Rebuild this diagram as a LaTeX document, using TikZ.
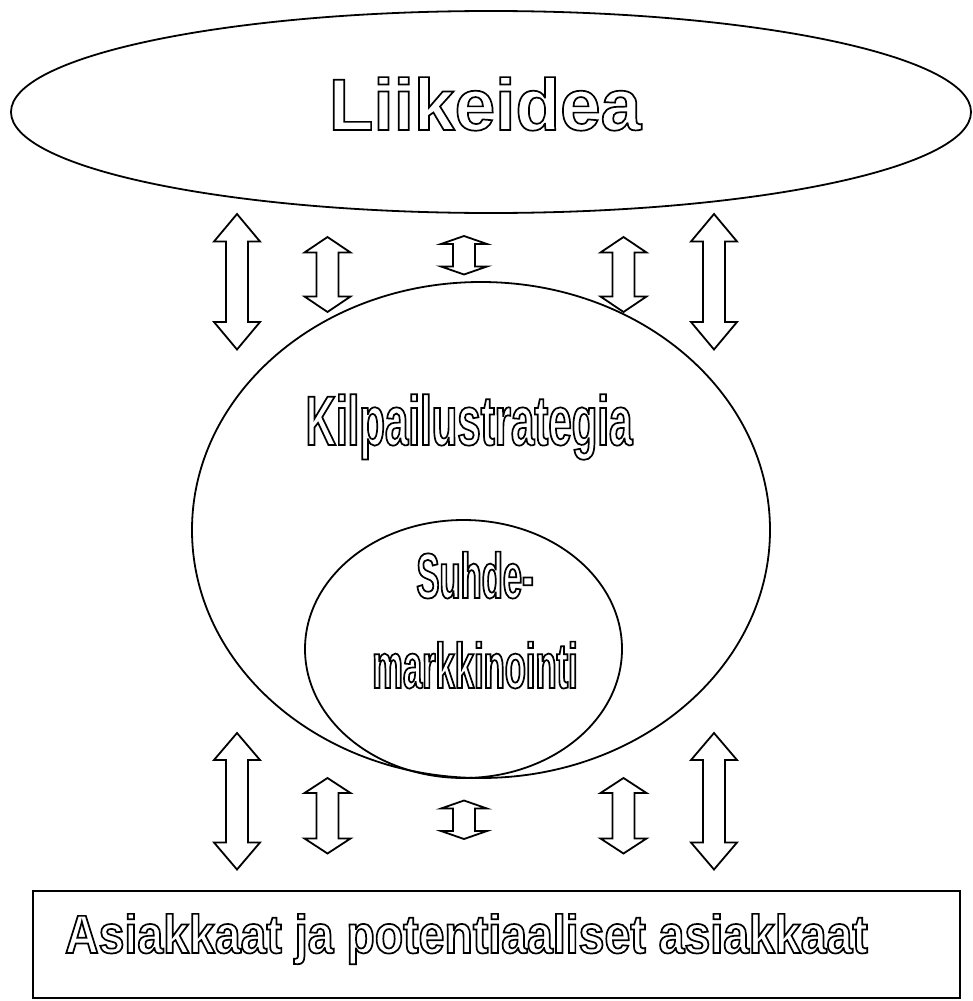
\documentclass[tikz,border=0pt]{standalone}
\usepackage{fontspec}
\usetikzlibrary{shapes.geometric}
\newfontfamily\fA{Liberation Sans}
\newfontfamily\fB{Liberation Sans}[FakeStretch=0.6]
\newfontfamily\fC{Liberation Sans}[FakeStretch=0.54]
\newfontfamily\fD{Liberation Sans}[FakeStretch=0.86]
\newcommand\hol[1]{\special{pdf:literal direct 1 Tr 1.7 w 0 j}#1\special{pdf:literal direct 0 Tr}}
\newcommand\darr[4]{%
  \draw[arrowbox] (#1,#2) -- (#1+23,#2+#4) -- (#1+11,#2+#4) -- (#1+11,#3-#4)
   -- (#1+23,#3-#4) -- (#1,#3) -- (#1-23,#3-#4) -- (#1-11,#3-#4)
   -- (#1-11,#2+#4) -- (#1-23,#2+#4) -- cycle;}
\tikzset{
  shapeline/.style={draw=black, line width=1.8pt},
  arrowbox/.style={draw=black, fill=white, line width=1.8pt, line join=miter},
  txt/.style={inner sep=0pt, outer sep=0pt, anchor=base}
}
\begin{document}
\begin{tikzpicture}[x=1pt,y=-1pt]
\fill[white] (0,0) rectangle (972,1001);
\useasboundingbox (0,0) rectangle (972,1001);
% shapes
\node[ellipse, shapeline, minimum width=960pt, minimum height=202pt, inner sep=0pt] (liike) at (491,112) {};
\node[ellipse, shapeline, minimum width=578pt, minimum height=496pt, inner sep=0pt] (kilpa) at (481,530) {};
\node[ellipse, shapeline, minimum width=317pt, minimum height=258pt, inner sep=0pt] (suhde) at (463.5,649) {};
\node[rectangle, shapeline, minimum width=927pt, minimum height=107pt, inner sep=0pt] (asiak) at (496.5,944.5) {};
% upper arrows
\darr{237}{214}{349.5}{27.5}
\darr{327.5}{237}{312}{15.5}
\darr{464}{236}{274.5}{8}
\darr{623.5}{237}{312}{15.5}
\darr{714}{214}{349.5}{27.5}
% lower arrows
\darr{237}{733}{869.5}{27}
\darr{327.5}{778}{853.5}{15}
\darr{464}{800.5}{839}{8}
\darr{623.5}{778}{853.5}{15}
\darr{714}{733}{869.5}{27}
% texts
\node[txt] (t1) at (485,130) {\fA\bfseries\fontsize{73}{80}\selectfont\hol{Liikeidea}};
\node[txt] (t2) at (469,445) {\fB\bfseries\fontsize{70}{80}\selectfont\hol{Kilpailustrategia}};
\node[txt] (t3) at (475,598) {\fC\bfseries\fontsize{64}{70}\selectfont\hol{Suhde-}};
\node[txt] (t4) at (475,688) {\fC\bfseries\fontsize{64}{70}\selectfont\hol{markkinointi}};
\node[txt] (t5) at (466.5,953) {\fD\bfseries\fontsize{54}{60}\selectfont\hol{Asiakkaat ja potentiaaliset asiakkaat}};
\end{tikzpicture}
\end{document}
